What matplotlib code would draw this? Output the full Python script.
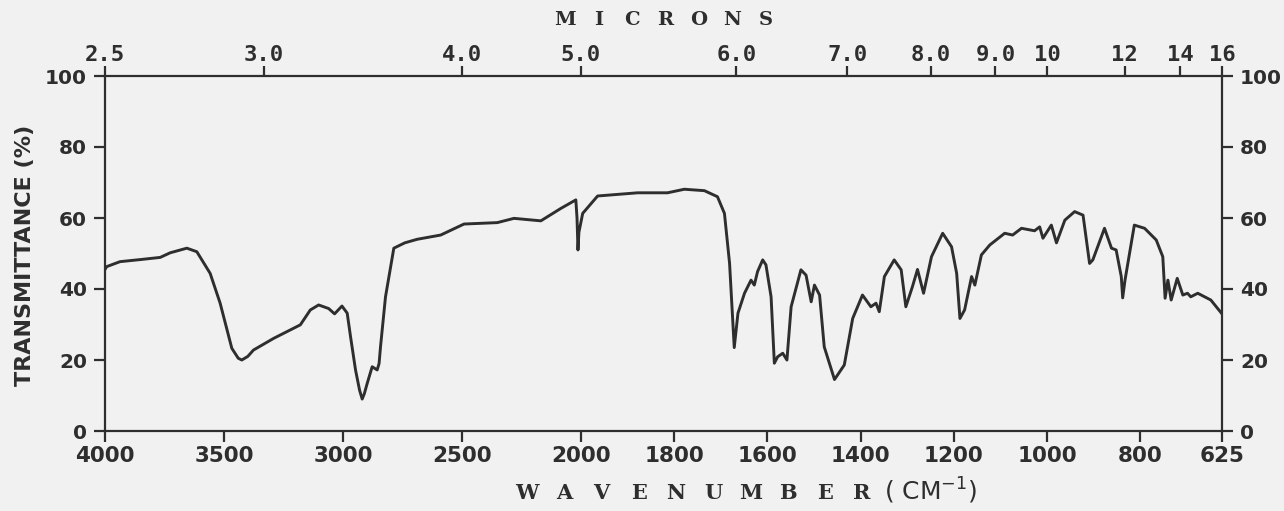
import numpy as np
import matplotlib
matplotlib.use("Agg")
import matplotlib.pyplot as plt

# ---------------- data ----------------
wavenumber = [4000, 3993, 3937, 3850, 3768, 3726, 3656, 3614, 3558, 3516, 3467, 3440,
              3425, 3400, 3376, 3291, 3179, 3137, 3102, 3060, 3035, 3004, 2982, 2968,
              2947, 2930, 2919, 2910, 2898, 2877, 2856, 2848, 2842, 2821, 2786, 2740,
              2688, 2589, 2491, 2351, 2281, 2168, 2084, 2021, 2016, 2012, 2008, 1996,
              1964, 1878, 1814, 1778, 1735, 1707, 1692, 1681, 1671, 1663, 1649, 1635,
              1628, 1621, 1610, 1603, 1592, 1585, 1578, 1567, 1558, 1549, 1528, 1517,
              1506, 1499, 1488, 1478, 1456, 1435, 1417, 1396, 1378, 1367, 1360, 1349,
              1328, 1313, 1303, 1289, 1278, 1265, 1248, 1224, 1205, 1194, 1187, 1177,
              1162, 1155, 1141, 1123, 1091, 1074, 1055, 1027, 1016, 1009, 991, 980,
              962, 941, 923, 909, 902, 877, 862, 852, 841, 838, 833, 813,
              791, 766, 752, 747, 741, 734, 721, 709, 699, 692, 677, 649, 625]
transmittance = [45.5, 46.3, 47.7, 48.3, 48.9, 50.2, 51.5, 50.5, 44.4, 36.0, 23.3, 20.5,
                 20.0, 21.0, 22.8, 26.1, 29.9, 34.1, 35.5, 34.5, 33.0, 35.2, 33.2, 26.6,
                 17.2, 11.5, 9.0, 10.5, 13.4, 18.1, 17.2, 19.0, 23.7, 37.8, 51.5, 53.0,
                 54.0, 55.2, 58.3, 58.7, 59.9, 59.2, 62.7, 65.1, 60.0, 51.0, 56.0, 61.3,
                 66.2, 67.1, 67.1, 68.1, 67.7, 66.0, 61.3, 47.2, 23.5, 33.2, 38.8, 42.5,
                 41.1, 44.9, 48.2, 46.8, 37.8, 19.1, 20.9, 21.9, 20.0, 35.0, 45.4, 43.9,
                 36.4, 41.1, 38.3, 23.7, 14.5, 18.6, 31.7, 38.3, 35.0, 36.0, 33.6, 43.5,
                 48.2, 45.4, 35.0, 40.6, 45.5, 38.8, 49.1, 55.7, 51.9, 44.4, 31.7, 34.1,
                 43.5, 41.1, 49.6, 52.4, 55.7, 55.2, 57.1, 56.4, 57.5, 54.3, 58.0, 53.0,
                 59.4, 61.8, 60.8, 47.2, 48.2, 57.1, 51.5, 51.0, 43.5, 37.5, 42.5, 58.0,
                 57.1, 53.8, 49.1, 37.4, 42.5, 36.9, 43.0, 38.3, 38.8, 37.8, 38.8, 36.9, 33.0]

wn_ticks = [4000, 3500, 3000, 2500, 2000, 1800, 1600, 1400, 1200, 1000, 800, 625]
wn_labels = ["4000", "3500", "3000", "2500", "2000", "1800", "1600", "1400",
             "1200", "1000", "800", "625"]
micron_ticks = [2.5, 3.0, 4.0, 5.0, 6.0, 7.0, 8.0, 9.0, 10, 12, 14, 16]
micron_labels = ["2.5", "3.0", "4.0", "5.0", "6.0", "7.0", "8.0", "9.0", "10", "12", "14", "16"]
y_ticks = [0, 20, 40, 60, 80, 100]
top_title = "MICRONS"
bottom_title = "WAVENUMBER"

# ---------------- piecewise wavenumber scale (2:1 below 2000) ----------------
R = 1.96

def fwd(w):
    w = np.asarray(w, dtype=float)
    return np.where(w >= 2000, w, 2000 - (2000 - w) * R)

def inv(u):
    u = np.asarray(u, dtype=float)
    return np.where(u >= 2000, u, 2000 - (2000 - u) / R)

INK = "#2e2e2e"
PAPER = "#f1f1f1"
W, H = 1284, 511

fig = plt.figure(figsize=(12.84, 5.11), dpi=100, facecolor=PAPER)
ax = fig.add_axes([105 / W, 1 - 431 / H, (1222 - 105) / W, (431 - 76) / H])
ax.set_facecolor(PAPER)
ax.set_xscale("function", functions=(fwd, inv))
ax.set_xlim(4000, 625)
ax.set_ylim(0, 100)

ax.plot(wavenumber, transmittance, color=INK, lw=2.1, solid_joinstyle="round")

for s in ax.spines.values():
    s.set_color(INK)
    s.set_linewidth(1.6)

xfont = dict(family="DejaVu Sans", weight="bold", size=15.5)
yfont = dict(family="DejaVu Sans", weight="bold", size=14.5)
mfont = dict(family="DejaVu Sans Mono", weight="bold", size=16)

ax.set_xticks(wn_ticks)
ax.set_xticklabels(wn_labels, **xfont, color=INK)
ax.xaxis.set_minor_locator(matplotlib.ticker.NullLocator())
ax.tick_params(axis="x", direction="out", length=8, width=1.6, color=INK, pad=3)

ax.set_yticks(y_ticks)
ax.set_yticklabels([str(v) for v in y_ticks], **yfont, color=INK)
ax.tick_params(axis="y", direction="out", length=8, width=1.6, color=INK, pad=5,
               left=True, right=True, labelleft=True, labelright=True)
for t in ax.yaxis.get_major_ticks():
    t.label2.set_fontproperties(matplotlib.font_manager.FontProperties(**yfont))
    t.label2.set_color(INK)

# top micron axis
ax2 = ax.twiny()
ax2.set_xscale("function", functions=(fwd, inv))
ax2.set_xlim(4000, 625)
ax2.set_xticks([1e4 / m for m in micron_ticks])
ax2.set_xticklabels(micron_labels, **mfont, color=INK)
ax2.xaxis.set_minor_locator(matplotlib.ticker.NullLocator())
ax2.tick_params(axis="x", direction="out", length=7, width=1.6, color=INK, pad=1)
for s in ax2.spines.values():
    s.set_visible(False)

# spaced typewriter-style titles
letter = dict(family="DejaVu Serif", weight="bold", color=INK, ha="center", va="center")
for i, ch in enumerate(top_title):
    fig.text((565 + i * 33.4) / W, 1 - 20 / H, ch, size=14, **letter)
for i, ch in enumerate(bottom_title):
    fig.text((527 + i * 37.2) / W, 1 - 493 / H, ch, size=15, **letter)
fig.text(931 / W, 1 - 491 / H, "( CM$^{-1}$)", ha="center", va="center",
         size=18, family="DejaVu Sans", color=INK)
fig.text(25 / W, 1 - 255 / H, "TRANSMITTANCE (%)", rotation=90, ha="center",
         va="center", size=16, family="DejaVu Sans", weight="bold", color=INK)

fig.savefig("out.png", dpi=100, facecolor=PAPER)
